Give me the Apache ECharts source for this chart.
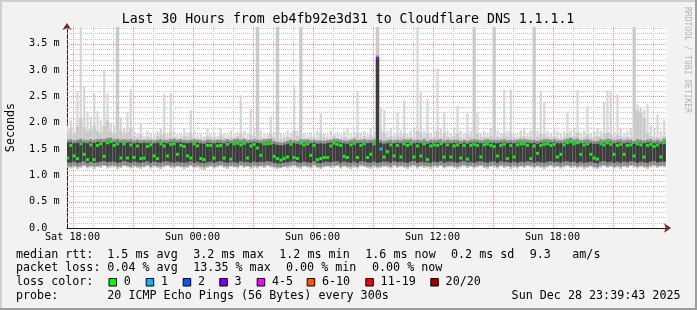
<!DOCTYPE html>
<html><head><meta charset="utf-8">
<script src="https://cdn.jsdelivr.net/npm/echarts@6/dist/echarts.min.js"></script>
<style>html,body{margin:0;padding:0;background:#f2f2f2}#c{width:697px;height:310px}</style>
</head><body><div id="c"></div>
<script>
// time: hours since Sat 00:00; samples every 10 minutes
const startHour = 17.75;
const stepHours = 1 / 6;
const axisMinHour = 17.725;
const axisMaxHour = 47.725;

// smoke bottom (fastest pings), ms
const smokeLow = [
1.15,1.13,1.16,1.12,1.14,1.17,1.13,1.15,1.12,1.16,1.14,1.18,1.13,1.15,1.16,1.12,1.14,1.17,1.15,1.13,
1.16,1.14,1.12,1.15,1.17,1.13,1.16,1.14,1.12,1.15,1.18,1.14,1.13,1.16,1.15,1.12,1.14,1.17,1.13,1.15,
1.12,1.10,1.14,1.16,1.13,1.15,1.17,1.14,1.12,1.16,1.15,1.13,1.17,1.14,1.16,1.12,1.15,1.13,1.16,1.14,
1.17,1.15,1.13,1.12,1.14,1.16,1.13,1.15,1.17,1.14,1.12,1.16,1.15,1.13,1.17,1.14,1.12,1.15,1.16,1.14,
1.15,1.17,1.13,1.16,1.14,1.12,1.15,1.13,1.17,1.16,1.14,1.12,1.15,1.13,1.14,1.16,1.15,1.13,1.17,1.14,
1.16,1.14,1.12,1.15,1.17,1.13,1.16,1.14,1.15,1.12,1.16,1.14,1.17,1.13,1.15,1.16,1.14,1.12,1.15,1.17,
1.14,1.16,1.13,1.15,1.17,1.14,1.12,1.16,1.15,1.13,1.17,1.14,1.16,1.12,1.15,1.13,1.16,1.14,1.17,1.15,
1.13,1.16,1.14,1.12,1.15,1.17,1.14,1.16,1.13,1.15,1.17,1.14,1.16,1.13,1.15,1.12,1.14,1.16,1.13,1.12,
1.15,1.17,1.14,1.16,1.13,1.15,1.12,1.16,1.14,1.17,1.15,1.13,1.16,1.14,1.12,1.15,1.17,1.14,1.16,1.15];
// dense smoke lower edge
const smokeQ1 = [
1.25,1.24,1.26,1.24,1.25,1.27,1.24,1.26,1.24,1.25,1.26,1.27,1.25,1.26,1.26,1.24,1.25,1.27,1.26,1.24,
1.26,1.25,1.24,1.25,1.27,1.24,1.26,1.25,1.24,1.26,1.27,1.25,1.24,1.26,1.25,1.24,1.25,1.27,1.24,1.26,
1.24,1.23,1.25,1.26,1.24,1.26,1.27,1.25,1.24,1.26,1.25,1.24,1.27,1.25,1.26,1.24,1.26,1.25,1.26,1.25,
1.27,1.26,1.24,1.23,1.23,1.24,1.25,1.26,1.27,1.25,1.24,1.26,1.25,1.24,1.27,1.24,1.23,1.25,1.26,1.25,
1.26,1.27,1.24,1.26,1.25,1.24,1.26,1.24,1.27,1.26,1.25,1.24,1.26,1.24,1.25,1.26,1.26,1.24,1.27,1.25,
1.26,1.25,1.24,1.26,1.27,1.24,1.26,1.25,1.25,1.24,1.26,1.25,1.27,1.24,1.26,1.26,1.25,1.24,1.26,1.27,
1.25,1.26,1.24,1.26,1.27,1.25,1.24,1.26,1.26,1.24,1.27,1.25,1.26,1.24,1.26,1.24,1.26,1.25,1.27,1.26,
1.24,1.26,1.25,1.24,1.26,1.27,1.25,1.26,1.24,1.26,1.27,1.25,1.26,1.24,1.26,1.24,1.25,1.26,1.24,1.23,
1.26,1.27,1.25,1.26,1.24,1.26,1.24,1.26,1.25,1.27,1.26,1.24,1.26,1.25,1.24,1.26,1.27,1.25,1.26,1.26];
// dense smoke upper edge
const smokeQ3 = [
1.62,1.63,1.61,1.62,1.64,1.62,1.61,1.63,1.62,1.63,1.64,1.63,1.65,1.66,1.63,1.64,1.62,1.63,1.62,1.63,
1.61,1.62,1.61,1.62,1.61,1.62,1.61,1.62,1.63,1.62,1.61,1.63,1.64,1.62,1.63,1.62,1.61,1.62,1.63,1.62,
1.61,1.60,1.62,1.62,1.61,1.62,1.62,1.61,1.63,1.61,1.63,1.64,1.62,1.64,1.61,1.62,1.63,1.62,1.61,1.63,
1.63,1.64,1.60,1.58,1.57,1.58,1.60,1.62,1.61,1.60,1.63,1.62,1.63,1.61,1.62,1.60,1.61,1.60,1.61,1.62,
1.64,1.63,1.62,1.61,1.60,1.62,1.64,1.61,1.62,1.63,1.61,1.62,1.63,3.22,1.62,1.60,1.61,1.62,1.61,1.62,
1.61,1.63,1.62,1.63,1.61,1.62,1.61,1.63,1.60,1.62,1.62,1.62,1.63,1.61,1.62,1.61,1.62,1.62,1.60,1.62,
1.60,1.62,1.63,1.62,1.61,1.62,1.63,1.62,1.62,1.61,1.62,1.63,1.61,1.62,1.61,1.62,1.63,1.63,1.62,1.61,
1.62,1.60,1.62,1.63,1.63,1.62,1.63,1.61,1.61,1.62,1.64,1.66,1.63,1.64,1.61,1.62,1.63,1.61,1.60,1.60,
1.63,1.62,1.64,1.63,1.61,1.62,1.63,1.61,1.62,1.62,1.60,1.63,1.62,1.61,1.62,1.63,1.61,1.62,1.60,1.64];
// light smoke top (slowest regular pings)
const smokeHigh = [
1.80,1.90,1.78,1.95,2.10,1.92,1.85,1.88,1.95,1.85,1.82,1.95,2.05,1.85,1.80,3.82,1.85,1.78,1.82,1.90,
1.75,1.72,1.78,1.70,1.74,1.72,1.70,1.75,1.78,1.80,1.72,1.82,1.74,1.70,1.72,1.76,1.74,1.80,1.72,1.70,
1.72,1.70,1.76,1.72,1.74,1.70,1.78,1.72,1.70,1.74,1.72,1.75,1.80,1.72,1.70,1.78,1.75,3.82,1.72,1.70,
1.72,1.80,1.72,3.82,1.70,1.72,1.74,1.72,1.85,1.75,3.82,1.72,1.70,1.74,1.72,1.70,1.80,1.72,1.70,1.72,
1.75,1.72,1.70,1.74,1.72,1.70,1.74,1.80,1.72,1.75,1.72,1.78,1.74,3.82,1.85,1.80,1.72,1.75,1.72,1.78,
1.74,1.80,1.72,1.74,1.72,1.85,1.82,1.74,1.80,1.72,1.74,1.85,1.72,1.80,1.74,1.72,1.75,1.80,1.72,1.70,
1.78,1.74,3.82,1.80,1.72,1.74,1.72,1.75,3.82,1.74,1.72,1.80,1.74,1.82,1.72,1.70,1.74,1.75,1.72,1.74,
3.82,1.74,1.80,1.78,1.74,1.72,1.75,1.72,1.70,1.74,1.80,1.74,1.75,1.82,1.72,1.74,1.78,1.72,1.74,1.75,
1.74,1.80,1.82,1.80,1.74,1.78,1.75,1.72,1.74,1.72,3.82,2.25,2.20,2.10,1.80,1.75,1.72,1.74,1.72,1.75];
// single slowest ping (spikes)
const smokeMax = [
1.95,2.05,1.85,2.60,3.82,2.69,2.22,2.12,2.56,2.22,2.05,2.99,2.56,2.00,1.95,3.82,2.10,1.90,2.20,2.63,
1.85,1.80,2.00,1.75,1.85,1.80,1.78,1.85,1.90,2.54,1.80,2.56,1.85,1.78,1.80,1.90,1.82,2.24,1.85,1.78,
1.80,1.75,1.90,1.78,1.82,1.75,1.90,1.80,1.78,1.85,1.80,1.82,2.52,1.85,1.80,2.26,1.90,3.82,1.85,1.80,
1.78,2.12,1.82,3.82,1.80,1.78,1.85,1.80,2.67,1.85,3.82,1.80,1.78,1.82,1.80,1.85,2.18,1.80,1.78,1.85,
1.80,1.82,1.78,1.85,1.90,1.80,1.85,2.60,1.80,1.85,1.78,1.90,1.85,3.82,2.30,2.25,1.85,1.90,1.80,2.20,
1.85,2.43,1.80,1.85,1.90,3.82,2.58,1.85,2.45,1.80,1.85,3.04,1.90,2.20,1.85,1.80,1.90,2.32,1.85,1.80,
2.18,1.85,3.82,2.20,1.80,1.85,1.80,1.90,3.82,1.85,1.80,2.63,1.85,2.63,1.80,1.78,1.85,1.90,1.80,1.85,
3.82,1.85,2.60,2.40,1.85,1.80,1.90,1.85,1.80,1.85,2.20,1.85,1.90,2.62,1.80,1.85,2.32,1.80,1.85,1.90,
1.85,2.40,2.62,2.60,1.85,2.54,1.90,1.80,1.85,1.90,3.82,2.35,2.30,2.25,2.35,1.95,1.90,2.15,1.85,2.05];
// median rtt, ms
const medianRtt = [
1.33,1.57,1.37,1.32,1.60,1.40,1.30,1.58,1.30,1.57,1.60,1.36,1.62,1.64,1.57,1.60,1.33,1.60,1.33,1.58,
1.34,1.56,1.32,1.33,1.55,1.58,1.37,1.32,1.60,1.56,1.37,1.59,1.60,1.40,1.57,1.55,1.37,1.33,1.60,1.56,
1.32,1.30,1.57,1.57,1.33,1.56,1.57,1.33,1.59,1.31,1.60,1.61,1.58,1.61,1.33,1.56,1.59,1.52,1.38,1.60,
1.60,1.61,1.36,1.32,1.29,1.32,1.35,1.59,1.34,1.32,1.61,1.58,1.60,1.38,1.57,1.30,1.32,1.34,1.34,1.56,
1.61,1.59,1.57,1.36,1.34,1.58,1.61,1.34,1.57,1.60,1.34,1.40,1.60,3.22,1.50,1.35,1.45,1.58,1.37,1.57,
1.35,1.60,1.57,1.60,1.35,1.56,1.37,1.60,1.30,1.56,1.58,1.57,1.60,1.35,1.58,1.35,1.56,1.58,1.33,1.57,
1.31,1.57,1.59,1.57,1.35,1.58,1.60,1.57,1.55,1.37,1.57,1.59,1.32,1.57,1.35,1.58,1.60,1.60,1.57,1.32,
1.56,1.42,1.57,1.59,1.60,1.57,1.59,1.35,1.40,1.58,1.62,1.64,1.60,1.62,1.40,1.58,1.60,1.40,1.33,1.31,
1.60,1.58,1.62,1.59,1.40,1.57,1.59,1.40,1.57,1.58,1.37,1.60,1.58,1.35,1.57,1.59,1.55,1.58,1.35,1.62];
// lost pings per sample (of 20)
const lostPings = [
0,0,0,0,0,0,0,0,0,0,0,0,0,0,0,0,0,0,0,0,
0,0,0,0,0,0,0,0,0,0,0,0,0,0,0,0,0,0,0,0,
0,0,0,0,0,0,0,0,0,0,0,0,0,0,0,0,0,0,0,0,
0,0,0,0,0,0,0,0,0,0,0,0,0,0,0,0,0,0,0,0,
0,0,0,0,0,0,0,0,0,0,0,0,0,3,1,0,0,0,0,0,
0,0,0,0,0,0,0,0,0,0,0,0,0,0,0,0,0,0,0,0,
0,0,0,0,0,0,0,0,0,0,0,0,0,0,0,0,0,0,0,0,
0,0,0,0,0,0,0,0,0,0,0,0,0,0,0,0,0,0,0,0,
0,0,0,0,0,0,0,0,0,0,0,0,0,0,0,0,0,0,0,0];

const xLabelHours = [18, 24, 30, 36, 42];
const xLabelTexts = ['Sat 18:00', 'Sun 00:00', 'Sun 06:00', 'Sun 12:00', 'Sun 18:00'];
const xMajorHours = [18, 21, 24, 27, 30, 33, 36, 39, 42, 45];
const xMinorHours = [19,20,22,23,25,26,28,29,31,32,34,35,37,38,40,41,43,44,46,47];
const yMajorTicks = [0, 0.5, 1.0, 1.5, 2.0, 2.5, 3.0, 3.5];
const yMinorTicks = [0.1,0.2,0.3,0.4,0.6,0.7,0.8,0.9,1.1,1.2,1.3,1.4,1.6,1.7,1.8,1.9,2.1,2.2,2.3,2.4,2.6,2.7,2.8,2.9,3.1,3.2,3.3,3.4,3.6,3.7,3.8];
const yMax = 3.82;

const lossLabels = ['0', '1', '2', '3', '4-5', '6-10', '11-19', '20/20'];
const lossColors = ['#00ff00', '#00b8ff', '#0059ff', '#7e00ff', '#ff00ff', '#ff5500', '#ff0000', '#a10000'];
function lossColor(n) {
  if (n <= 0) return lossColors[0];
  if (n === 1) return lossColors[1];
  if (n === 2) return lossColors[2];
  if (n === 3) return lossColors[3];
  if (n <= 5) return lossColors[4];
  if (n <= 10) return lossColors[5];
  if (n <= 19) return lossColors[6];
  return lossColors[7];
}

const rows = medianRtt.map((m, i) => [startHour + i * stepHours, smokeLow[i], smokeQ1[i], smokeQ3[i], smokeHigh[i], smokeMax[i], m, lostPings[i]]);

const MONO = '"DejaVu Sans Mono", "Liberation Mono", monospace';
const GRID_MINOR = '#c4c4c4';
const GRID_MAJOR = '#f08c8c';
const ARROW = '#801f1f';

function renderSmoke(params, api) {
  const t = api.value(0);
  const w = api.size([stepHours, 0])[0];
  const xc = api.coord([t, 0])[0];
  const x0 = xc - w / 2;
  const y = v => api.coord([t, v])[1];
  const yLo = y(api.value(1)), yQ1 = y(api.value(2)), yQ3 = y(api.value(3));
  const yHi = y(api.value(4)), yMx = y(api.value(5)), yMed = y(api.value(6));
  return {
    type: 'group',
    children: [
      { type: 'rect', shape: { x: xc - 1.1, y: yMx, width: 2.2, height: Math.max(0, yHi - yMx) }, style: { fill: '#d6d6d6' } },
      { type: 'rect', shape: { x: x0, y: yHi, width: w, height: yLo - yHi }, style: { fill: '#cacaca' } },
      { type: 'rect', shape: { x: x0, y: yQ3 - 3, width: w, height: yQ1 - yQ3 + 7 }, style: { fill: '#8a8a8a' } },
      { type: 'rect', shape: { x: x0, y: yQ3, width: w, height: yQ1 - yQ3 }, style: { fill: '#3c3c3c' } },
      { type: 'rect', shape: { x: xc - 1.4, y: yMed - 1.5, width: 2.8, height: 3 }, style: { fill: lossColor(api.value(7)) } }
    ]
  };
}

// grid lines drawn through the axes' own scale
function gridRenderer(color, horizontal) {
  return function (params, api) {
    const v = api.value(0);
    const cs = params.coordSys;
    let shape;
    if (horizontal) {
      const yy = Math.round(api.coord([axisMinHour, v])[1]) + 0.5;
      shape = { x1: cs.x, y1: yy, x2: cs.x + cs.width, y2: yy };
    } else {
      const xx = Math.round(api.coord([v, 0])[0]) + 0.5;
      shape = { x1: xx, y1: cs.y, x2: xx, y2: cs.y + cs.height };
    }
    return { type: 'line', shape: shape, silent: true, style: { stroke: color, lineWidth: 1, lineDash: [1, 1] } };
  };
}

const chart = echarts.init(document.getElementById('c'), null, { renderer: 'canvas' });

function txt(x, y, s, size, extra) {
  return Object.assign({ type: 'text', x: x, y: y, silent: true,
    style: Object.assign({ text: s, font: size + 'px ' + MONO, fill: '#000', align: 'left', verticalAlign: 'middle' }, extra || {}) });
}

const graphics = [
  { type: 'rect', shape: { x: 0, y: 0, width: 697, height: 2 }, style: { fill: '#cfcfcf' }, silent: true },
  { type: 'rect', shape: { x: 0, y: 0, width: 2, height: 310 }, style: { fill: '#cfcfcf' }, silent: true },
  { type: 'rect', shape: { x: 0, y: 308, width: 697, height: 2 }, style: { fill: '#9e9e9e' }, silent: true },
  { type: 'rect', shape: { x: 695, y: 0, width: 2, height: 310 }, style: { fill: '#9e9e9e' }, silent: true },
  txt(348, 19.5, 'Last 30 Hours from eb4fb92e3d31 to Cloudflare DNS 1.1.1.1', 13.2, { align: 'center' }),
  Object.assign(txt(10.5, 127.5, 'Seconds', 11.7, { align: 'center' }), { rotation: Math.PI / 2 }),
  Object.assign(txt(687, 60, 'RRDTOOL / TOBI OETIKER', 8, { align: 'center', fill: 'rgba(0,0,0,0.28)' }), { rotation: -Math.PI / 2 }),
  txt(16, 254.6, 'median rtt:', 11.7),
  txt(107.3, 254.6, '1.5 ms avg', 11.7),
  txt(193.3, 254.6, '3.2 ms max', 11.7),
  txt(279.3, 254.6, '1.2 ms min', 11.7),
  txt(365.3, 254.6, '1.6 ms now', 11.7),
  txt(451, 254.6, '0.2 ms sd', 11.7),
  txt(529.7, 254.6, '9.3', 11.7),
  txt(572.3, 254.6, 'am/s', 11.7),
  txt(16, 268.3, 'packet loss:', 11.7),
  txt(107.3, 268.3, '0.04 % avg', 11.7),
  txt(193.3, 268.3, '13.35 % max', 11.7),
  txt(286, 268.3, '0.00 % min', 11.7),
  txt(372, 268.3, '0.00 % now', 11.7),
  txt(16, 282, 'loss color:', 11.7),
  txt(16, 295.7, 'probe:', 11.7),
  txt(107.3, 295.7, '20 ICMP Echo Pings (56 Bytes) every 300s', 11.7),
  txt(680.5, 295.7, 'Sun Dec 28 23:39:43 2025', 11.7, { align: 'right' })
];
const boxX = [108.5, 145.7, 182.7, 219.3, 256.7, 306.7, 365.3, 430.3];
lossLabels.forEach((lab, k) => {
  graphics.push({ type: 'rect', silent: true, shape: { x: boxX[k] + 0.5, y: 278.5, width: 7.5, height: 7.5 },
    style: { fill: lossColors[k], stroke: '#000', lineWidth: 1 } });
  graphics.push(txt(boxX[k] + 15.3, 282, lab, 11.7));
});

const gridSeriesBase = { type: 'custom', xAxisIndex: 0, yAxisIndex: 0, clip: true, silent: true, z: 1 };
const arrowAxisLine = { show: true, onZero: false, symbol: ['none', 'arrow'], symbolSize: [7, 7], symbolOffset: [0, 4], lineStyle: { color: ARROW, width: 0 } };

chart.setOption({
  animation: false,
  backgroundColor: '#f2f2f2',
  grid: { left: 67, right: 30, top: 27, bottom: 82, show: true, backgroundColor: '#ffffff', borderWidth: 0 },
  xAxis: [{
    type: 'value', min: axisMinHour, max: axisMaxHour, position: 'bottom',
    axisLine: { show: true, onZero: false, lineStyle: { color: '#1f1f1f', width: 1 } },
    axisTick: { show: false, customValues: xLabelHours },
    axisLabel: { show: true, customValues: xLabelHours, margin: 4, fontFamily: MONO, fontSize: 10.2, color: '#000',
      formatter: v => xLabelTexts[xLabelHours.indexOf(Math.round(v))] || '' },
    splitLine: { show: false }
  }, {
    type: 'value', min: axisMinHour, max: axisMaxHour, position: 'bottom',
    axisLine: arrowAxisLine, axisTick: { show: false }, axisLabel: { show: false }, splitLine: { show: false }
  }],
  yAxis: [{
    type: 'value', min: 0, max: yMax, position: 'left',
    axisLine: { show: true, onZero: false, lineStyle: { color: '#1f1f1f', width: 1 } },
    axisTick: { show: false, customValues: yMajorTicks },
    axisLabel: { show: true, customValues: yMajorTicks, align: 'left', margin: 38, fontFamily: MONO, fontSize: 10.2, color: '#000',
      formatter: v => v === 0 ? '0.0' : v.toFixed(1) + ' m' },
    splitLine: { show: false }
  }, {
    type: 'value', min: 0, max: yMax, position: 'left',
    axisLine: arrowAxisLine, axisTick: { show: false }, axisLabel: { show: false }, splitLine: { show: false }
  }],
  series: [
    Object.assign({}, gridSeriesBase, { renderItem: gridRenderer(GRID_MINOR, false), encode: { x: 0 }, data: xMinorHours.map(h => [h]) }),
    Object.assign({}, gridSeriesBase, { renderItem: gridRenderer(GRID_MINOR, true), encode: { y: 0 }, data: yMinorTicks.map(v => [v]) }),
    Object.assign({}, gridSeriesBase, { renderItem: gridRenderer(GRID_MAJOR, false), encode: { x: 0 }, data: xMajorHours.map(h => [h]) }),
    Object.assign({}, gridSeriesBase, { renderItem: gridRenderer(GRID_MAJOR, true), encode: { y: 0 }, data: yMajorTicks.slice(1).map(v => [v]) }),
    {
      type: 'custom', xAxisIndex: 0, yAxisIndex: 0, clip: true, z: 2,
      renderItem: renderSmoke,
      encode: { x: 0, y: [1, 2, 3, 4, 5, 6] },
      data: rows
    }
  ],
  graphic: graphics
});
</script></body></html>
